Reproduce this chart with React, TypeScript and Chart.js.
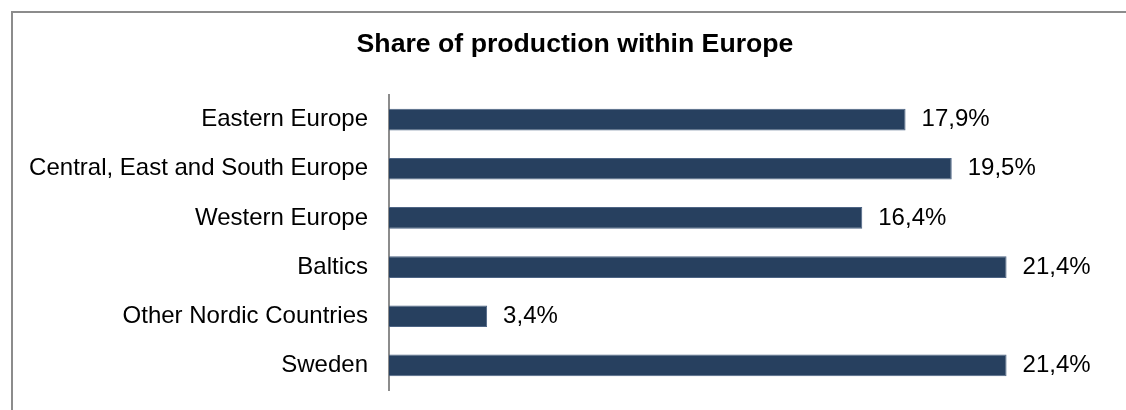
import React, { useEffect, useRef } from "react";
import { Chart, registerables } from "chart.js";

Chart.register(...registerables);

const categories: string[] = [
  "Eastern Europe",
  "Central, East and South Europe",
  "Western Europe",
  "Baltics",
  "Other Nordic Countries",
  "Sweden",
];
const shares: number[] = [17.9, 19.5, 16.4, 21.4, 3.4, 21.4];
const chartTitle = "Share of production within Europe";
const axisMax = 25.4;

const FONT = "'Liberation Sans', Arial, sans-serif";

const fmt = (v: number) => v.toFixed(1).replace(".", ",") + "%";

const valueLabels = {
  id: "valueLabels",
  afterDatasetsDraw(chart: any) {
    const ctx = chart.ctx;
    const meta = chart.getDatasetMeta(0);
    const data = chart.data.datasets[0].data as number[];
    ctx.save();
    ctx.font = `24px ${FONT}`;
    ctx.fillStyle = "#000";
    ctx.textAlign = "left";
    ctx.textBaseline = "middle";
    meta.data.forEach((el: any, i: number) => {
      ctx.fillText(fmt(data[i]), el.x + 16, el.y);
    });
    ctx.restore();
  },
};

const CANVAS_W = 1126;
const CANVAS_H = 410;

export default function App() {
  const ref = useRef<HTMLCanvasElement | null>(null);

  useEffect(() => {
    if (!ref.current) return;
    const padLeft = 28;
    const padRight = 4;
    const chart = new Chart(ref.current, {
      type: "bar",
      data: {
        labels: categories,
        datasets: [
          {
            data: shares,
            backgroundColor: "#27405f",
            borderColor: "#4d6484",
            borderWidth: 1,
            categoryPercentage: 1,
            barPercentage: 0.44,
          },
        ],
      },
      options: {
        indexAxis: "y",
        responsive: false,
        animation: false,
        layout: { padding: { left: padLeft, right: padRight, top: 0, bottom: 20 } },
        plugins: {
          legend: { display: false },
          tooltip: { enabled: false },
          title: {
            display: true,
            text: chartTitle,
            color: "#000",
            font: { family: FONT, size: 26.67, weight: "bold" },
            padding: { top: 29, bottom: 34 },
          },
        },
        scales: {
          x: {
            display: false,
            min: 0,
            max: axisMax,
          },
          y: {
            grid: { display: false, drawTicks: false },
            border: { display: true, color: "#8c8c8c", width: 2 },
            ticks: {
              color: "#000",
              font: { family: FONT, size: 24 },
              padding: 21,
            },
            afterFit: (scale: any) => {
              scale.width = 389 - padLeft;
              scale.paddingTop = 0;
              scale.paddingBottom = 0;
            },
          },
        },
      },
      plugins: [valueLabels],
    });
    return () => chart.destroy();
  }, []);

  return (
    <div
      style={{
        position: "fixed",
        left: 0,
        top: 0,
        width: 1126,
        height: 410,
        overflow: "hidden",
        background: "#fff",
      }}
    >
      <div
        style={{
          position: "absolute",
          left: 11,
          top: 11,
          width: 1300,
          height: 600,
          borderTop: "2px solid #8c8c8c",
          borderLeft: "2px solid #8c8c8c",
          boxSizing: "border-box",
        }}
      />
      <canvas
        ref={ref}
        width={CANVAS_W}
        height={CANVAS_H}
        style={{ position: "absolute", left: 0, top: 0 }}
      />
    </div>
  );
}
